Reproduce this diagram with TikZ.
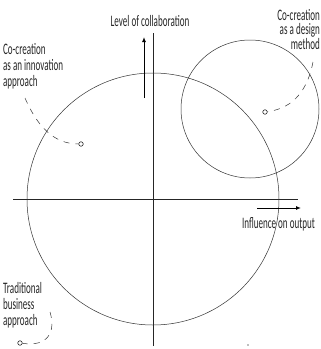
\documentclass[tikz,border=0pt]{standalone}
\usepackage{fontspec}
\setmainfont{Carlito}
\usetikzlibrary{positioning}
\usetikzlibrary{arrows.meta}

\begin{document}
\begin{tikzpicture}[
    x = 1pt, y = -1pt,
    ring/.style = {shape = circle, draw = black!80, line width = 0.5pt, inner sep = 0},
    axis/.style = {draw = black!85, line width = 0.7pt},
    dir/.style = {-{Latex[length = 5pt, width = 4pt]}, line width = 1pt},
    lbl/.style = {font = \fontsize{16}{16}\selectfont, xscale = 0.565, transform shape, inner sep = 0, text = black!85},
    spot/.style = {shape = circle, draw = black!85, line width = 0.6pt, minimum size = 4.5pt, inner sep = 0},
    leader/.style = {draw = black!80, line width = 0.5pt, dash pattern = on 6pt off 6pt},
    ]
    \useasboundingbox (0,0) rectangle (321,349);

    % axes
    \coordinate (ytop) at (153,33);
    \coordinate (ybot) at (153,346);
    \coordinate (xleft) at (13,199);
    \coordinate (xright) at (298,199);
    \path[axis] (ybot) -- (ytop);
    \path[axis] (xleft) -- (xright);

    % approaches
    \node[ring, minimum size = 252pt] (inno) at (153,199) {};
    \node[ring, minimum size = 138pt] (design) at (250,109) {};

    % direction arrows
    \coordinate (upfrom) at (144,98);
    \coordinate (upto) at (144,37);
    \coordinate (rightfrom) at (257,208);
    \coordinate (rightto) at (301,208);
    \draw[dir] (upfrom) -- (upto);
    \draw[dir] (rightfrom) -- (rightto);

    \node[lbl, anchor = base] (collab) at (150,26) {Level of collaboration};
    \node[lbl, anchor = base west] (output) at (242,228) {Influence on output};

    % labels and their positions (base = last line)
    \node[lbl, anchor = base west, align = left] (innolbl) at (3,86) {Co-creation\\as an innovation\\approach};
    \node[lbl, anchor = base east, align = right, font = \fontsize{16}{14.5}\selectfont] (designlbl) at (320,49) {Co-creation\\as a design\\method};
    \node[lbl, anchor = base west, align = left] (tradlbl) at (3,325) {Traditional\\business\\approach};

    \node[spot] (innodot) at (81,144) {};
    \node[spot] (designdot) at (265,112) {};
    \node[spot] (traddot) at (20,343) {};

    \coordinate (innotail) at (25,98);
    \coordinate (designtail) at (313,62);
    \coordinate (tradtail) at (50,312);
    \draw[leader] (innotail) .. controls (38,128) and (55,144) .. (innodot);
    \draw[leader] (designtail) .. controls (308,88) and (295,108) .. (designdot);
    \draw[leader] (tradtail) .. controls (56,332) and (48,347) .. (traddot);

    \fill[black!50] (248,345) circle (0.8pt);
\end{tikzpicture}
\end{document}
